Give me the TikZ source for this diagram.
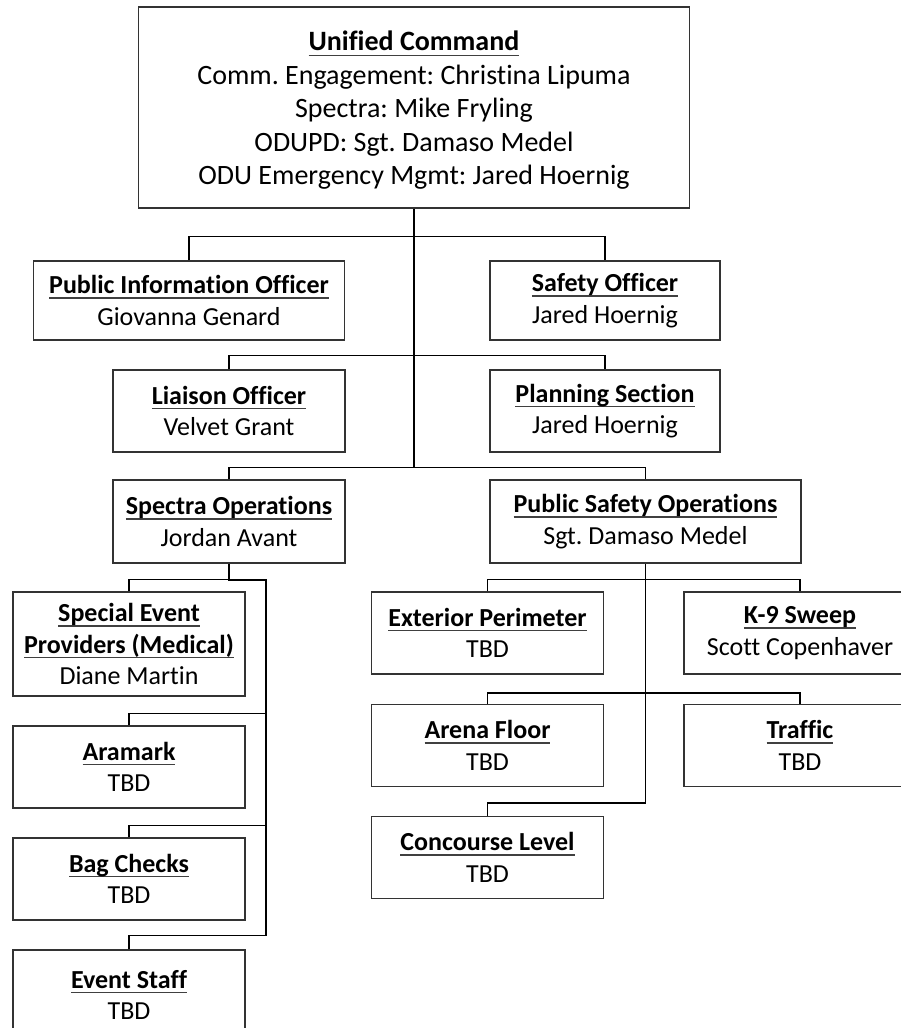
\documentclass[tikz,border=0pt]{standalone}
\usepackage{fontspec}
\setmainfont{Carlito}[Ligatures=CommonOff]
\usepackage{tikz}
\usetikzlibrary{positioning,calc}
\tikzset{
    % Org box
    node_box/.style = {draw=black!80, line width=1.3pt, fill=white, align=center, inner sep=0pt,
        minimum width=232pt, minimum height=82pt, font=\fontsize{26}{31.5}\selectfont},
    % Wide box
    node_wide/.style = {node_box, minimum width=311pt},
    % Connector
    wire/.style = {line width=1.6pt, black}
}
% bold heading with a thick underline
\newcommand{\hd}[1]{\textbf{\setbox0\hbox{#1}\rlap{\color{black!75}\vrule width\wd0 height -3.6pt depth 5.1pt}\box0}}
\frenchspacing

\begin{document}
\begin{tikzpicture}[x=1pt, y={(0pt,-1pt)}]
    \useasboundingbox (0,0) rectangle (901,1028);
    \clip (0,0) rectangle (901,1028);

    \node[node_box, minimum width=551pt, minimum height=201pt] (uc) at (414,107.5) {};
    \node[align=center, font=\fontsize{28}{33.5}\selectfont] (uc_txt) at (414,110.5)
        {\hd{Unified Command}\\Comm. Engagement: Christina Lipuma\\Spectra: Mike Fryling\\ODUPD: Sgt. Damaso Medel\\ODU Emergency Mgmt: Jared Hoernig};

    \node[node_wide, minimum height=79pt] (pio) at (189,300.5) {\hd{Public Information Officer}\\Giovanna Genard};
    \node[node_box, minimum width=230pt, minimum height=79pt] (sfo) at (605,300.5) {\hd{Safety Officer}\\Jared Hoernig};
    \node[node_box] (lo) at (229,411) {\hd{Liaison Officer}\\Velvet Grant};
    \node[node_box, minimum width=230pt] (ps) at (605,411) {\hd{Planning Section}\\Jared Hoernig};
    \node[node_box, minimum height=83pt] (so) at (229,521.5) {\hd{Spectra Operations}\\Jordan Avant};
    \node[node_wide, minimum height=83pt] (pso) at (645.5,521.5) {\hd{Public Safety Operations}\\Sgt. Damaso Medel};

    % Spectra side
    \node[node_box, minimum height=104pt] (sep) at (129,644) {\hd{Special Event}\\\hd{Providers (Medical)}\\Diane Martin};
    \node[node_box] (ara) at (129,767) {\hd{Aramark}\\TBD};
    \node[node_box] (bag) at (129,879) {\hd{Bag Checks}\\TBD};
    \node[node_box, minimum height=100pt] (evs) at (129,1000) {};
    \node[align=center, font=\fontsize{26}{31.5}\selectfont] (evs_txt) at (129,995) {\hd{Event Staff}\\TBD};

    % Public safety side
    \node[node_box] (ext) at (487.5,633) {\hd{Exterior Perimeter}\\TBD};
    \node[node_box] (k9) at (800,633) {\hd{K-9 Sweep}\\Scott Copenhaver};
    \node[node_box] (af) at (487.5,745.5) {\hd{Arena Floor}\\TBD};
    \node[node_box] (tr) at (800,745.5) {\hd{Traffic}\\TBD};
    \node[node_box] (cl) at (487.5,857.5) {\hd{Concourse Level}\\TBD};

    \coordinate (trunk) at (414,468);
    \coordinate (s_top) at (266,580);

    \draw[wire] (uc.south) -- (trunk);
    \draw[wire] (pio.north) -- ++(0,-24) -| (sfo.north);
    \draw[wire] (lo.north) -- ++(0,-14) -| (ps.north);
    \draw[wire] (so.north) -- ++(0,-12) -| (pso.north);

    \draw[wire] (so.south) |- (s_top);
    \draw[wire] (sep.north) -- ++(0,-12) -| (s_top);
    \foreach \n in {ara,bag}
        \draw[wire] (\n.north) -- ++(0,-12) -| (s_top);
    \draw[wire] (evs.north) -- ++(0,-14) -| (s_top);

    \draw[wire] (ext.north) -- ++(0,-12) -| (k9.north);
    \draw[wire] (af.north) -- ++(0,-11) -| (tr.north);
    \draw[wire] (cl.north) -- ++(0,-13) -| (pso.south);
\end{tikzpicture}
\end{document}
